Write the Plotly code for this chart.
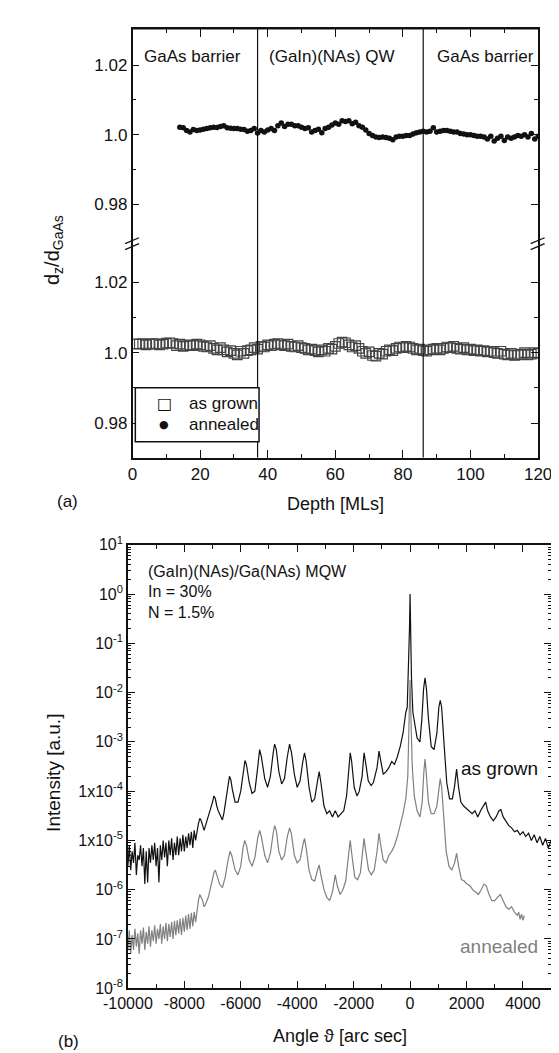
import plotly.graph_objects as go

# ---------------- Panel (a) data ----------------
depth_annealed = list(range(14, 121))
dz_annealed = [
    1.0022, 1.0020, 1.0012, 1.0008, 1.0015, 1.0012, 1.0014, 1.0016, 1.0018, 1.0020,
    1.0022, 1.0021, 1.0024, 1.0026, 1.0020, 1.0019, 1.0018, 1.0018, 1.0016, 1.0015,
    1.0010, 1.0012, 1.0018, 1.0005, 1.0012, 1.0008, 1.0014, 1.0018, 1.0012, 1.0026,
    1.0034, 1.0024, 1.0030, 1.0030, 1.0026, 1.0026, 1.0022, 1.0018, 1.0020, 1.0008,
    1.0012, 1.0016, 1.0006, 1.0018, 1.0022, 1.0028, 1.0034, 1.0030, 1.0040, 1.0038,
    1.0040, 1.0032, 1.0036, 1.0026, 1.0022, 1.0014, 1.0004, 0.9998, 0.9994, 0.9992,
    0.9994, 0.9992, 0.9990, 0.9986, 0.9994, 0.9996, 0.9996, 0.9998, 0.9998, 1.0002,
    1.0006, 1.0008, 1.0010, 1.0008, 1.0010, 1.0020, 1.0008, 1.0010, 1.0012, 1.0012,
    1.0010, 1.0008, 1.0008, 1.0004, 1.0002, 1.0000, 1.0000, 0.9998, 0.9996, 0.9996,
    0.9994, 0.9988, 0.9996, 0.9982, 0.9990, 0.9996, 0.9984, 0.9994, 0.9990, 0.9994,
    0.9998, 0.9996, 1.0000, 0.9994, 1.0004, 0.9988, 0.9996,
]
depth_grown = list(range(1, 121))
dz_grown = [
    1.0025, 1.0024, 1.0026, 1.0022, 1.0024, 1.0026, 1.0025, 1.0022, 1.0024, 1.0027,
    1.0028, 1.0026, 1.0020, 1.0024, 1.0018, 1.0020, 1.0022, 1.0020, 1.0024, 1.0022,
    1.0018, 1.0016, 1.0020, 1.0012, 1.0008, 1.0014, 1.0008, 1.0002, 1.0006, 0.9998,
    0.9994, 1.0004, 0.9998, 1.0006, 1.0008, 1.0014, 1.0010, 1.0018, 1.0016, 1.0022,
    1.0020, 1.0024, 1.0026, 1.0022, 1.0020, 1.0024, 1.0018, 1.0016, 1.0020, 1.0014,
    1.0012, 1.0008, 1.0010, 1.0006, 1.0002, 1.0008, 1.0004, 1.0012, 1.0010, 1.0018,
    1.0026, 1.0030, 1.0028, 1.0022, 1.0016, 1.0020, 1.0012, 1.0004, 0.9998, 1.0002,
    0.9992, 0.9990, 0.9998, 0.9996, 1.0004, 1.0008, 1.0006, 1.0012, 1.0016, 1.0014,
    1.0018, 1.0016, 1.0012, 1.0008, 1.0010, 1.0006, 1.0004, 1.0008, 1.0010, 1.0012,
    1.0008, 1.0012, 1.0016, 1.0014, 1.0018, 1.0012, 1.0010, 1.0014, 1.0008, 1.0010,
    1.0006, 1.0008, 1.0004, 1.0006, 1.0002, 1.0004, 1.0000, 0.9998, 1.0004, 0.9996,
    0.9994, 0.9998, 0.9992, 0.9994, 0.9996, 1.0000, 0.9994, 0.9996, 1.0000, 0.9998,
]
interface_depths = [37, 86]
region_labels = ["GaAs barrier", "(GaIn)(NAs) QW", "GaAs barrier"]
legend_labels = ["as grown", "annealed"]
a_xticks = [0, 20, 40, 60, 80, 100, 120]
a_yticks = [0.98, 1.0, 1.02]
a_yticktext = ["0.98", "1.0", "1.02"]

# ---------------- Panel (b) data ----------------
angle_grown = [
    -10000, -9950, -9900, -9850, -9800, -9750, -9700, -9650, -9600, -9550,
    -9500, -9450, -9400, -9350, -9300, -9250, -9200, -9150, -9100, -9050,
    -9000, -8950, -8900, -8850, -8800, -8750, -8700, -8650, -8600, -8550,
    -8500, -8450, -8400, -8350, -8300, -8250, -8200, -8150, -8100, -8050,
    -8000, -7950, -7900, -7850, -7800, -7750, -7700, -7650, -7600, -7550,
    -7500, -7450, -7400, -7350, -7300, -7250, -7200, -7100, -7000, -6950,
    -6900, -6850, -6800, -6700, -6650, -6600, -6500, -6450, -6400, -6350,
    -6300, -6200, -6100, -6000, -5900, -5850, -5800, -5700, -5600, -5500,
    -5400, -5330, -5270, -5150, -5050, -4950, -4850, -4800, -4740, -4650,
    -4550, -4450, -4350, -4270, -4200, -4100, -4000, -3900, -3800, -3740,
    -3680, -3580, -3480, -3380, -3280, -3220, -3160, -3050, -2950, -2850,
    -2750, -2650, -2550, -2450, -2350, -2250, -2170, -2120, -2070, -1980,
    -1880, -1800, -1700, -1630, -1580, -1480, -1380, -1300, -1170, -1100,
    -1050, -950, -850, -750, -650, -550, -450, -350, -250, -150,
    -100, -50, -20, 0, 20, 50, 100, 150, 250, 350,
    420, 480, 530, 580, 650, 750, 850, 950, 1020, 1070,
    1120, 1200, 1300, 1400, 1500, 1580, 1650, 1720, 1800, 1900,
    2000, 2100, 2200, 2300, 2400, 2500, 2600, 2680, 2750, 2850,
    2950, 3050, 3150, 3220, 3300, 3400, 3500, 3600, 3700, 3800,
    3900, 4000, 4100, 4200, 4300, 4400, 4500, 4600, 4700, 4800,
    4900, 5000,
]
intensity_grown = [
    3e-6, 8e-6, 2.5e-6, 6e-6, 3.5e-6, 9e-6, 2e-6, 5e-6, 4e-6, 8e-6,
    3e-6, 7e-6, 1.3e-6, 6e-6, 1.4e-6, 7e-6, 3.5e-6, 8e-6, 4e-6, 9e-6,
    3e-6, 7e-6, 1.4e-6, 8e-6, 4e-6, 1e-5, 4.5e-6, 9e-6, 3e-6, 1e-5,
    5e-6, 1.1e-5, 4e-6, 9e-6, 5e-6, 1.2e-5, 5e-6, 1.1e-5, 6e-6, 1.3e-5,
    6e-6, 1.2e-5, 7e-6, 1.4e-5, 8e-6, 1.5e-5, 7e-6, 1.6e-5, 1e-5, 1.6e-5,
    2.2e-5, 2.8e-5, 2.5e-5, 2.0e-5, 1.6e-5, 2.0e-5, 2.5e-5, 3.5e-5, 6e-5, 8e-5,
    7e-5, 5e-5, 4e-5, 3e-5, 2.6e-5, 3.5e-5, 8e-5, 1.5e-4, 2e-4, 1.7e-4,
    1.1e-4, 6e-5, 6e-5, 1e-4, 2.8e-4, 4.2e-4, 3.5e-4, 1.5e-4, 9e-5, 1e-4,
    3e-4, 7e-4, 5e-4, 1.8e-4, 1.2e-4, 2e-4, 6e-4, 9e-4, 7e-4, 2.5e-4,
    1.4e-4, 1.8e-4, 5e-4, 9e-4, 6e-4, 2.2e-4, 1.2e-4, 1.6e-4, 4e-4, 6e-4,
    4e-4, 1.2e-4, 6e-5, 7e-5, 1.6e-4, 2.5e-4, 1.5e-4, 5e-5, 3.5e-5, 4e-5,
    3e-5, 4e-5, 3e-5, 3.5e-5, 4e-5, 8e-5, 3e-4, 6e-4, 4e-4, 1.2e-4,
    8e-5, 1e-4, 2e-4, 6e-4, 4e-4, 1.6e-4, 1.3e-4, 1.5e-4, 3e-4, 6.5e-4,
    4.5e-4, 2.2e-4, 2.5e-4, 3e-4, 4e-4, 3.5e-4, 5e-4, 8e-4, 1.5e-3, 4e-3,
    5e-3, 3e-2, 2e-1, 1.0, 2e-1, 2e-2, 4e-3, 2.5e-3, 1.2e-3, 1e-3,
    3e-3, 1.2e-2, 2e-2, 1.2e-2, 3e-3, 8e-4, 7e-4, 1.5e-3, 5e-3, 7e-3,
    5e-3, 1e-3, 1.5e-4, 7e-5, 7e-5, 1.3e-4, 2.8e-4, 1.2e-4, 6e-5, 5e-5,
    4.5e-5, 4e-5, 3.5e-5, 4e-5, 3e-5, 4e-5, 5e-5, 6e-5, 4e-5, 3e-5,
    2.5e-5, 3e-5, 4e-5, 4.2e-5, 3e-5, 2.5e-5, 2e-5, 1.8e-5, 1.5e-5, 1.6e-5,
    1.3e-5, 1.5e-5, 1.2e-5, 1.4e-5, 1e-5, 1.3e-5, 9e-6, 1.2e-5, 8e-6, 1.1e-5,
    7e-6, 1e-5,
]
angle_annealed = [
    -10000, -9950, -9900, -9850, -9800, -9750, -9700, -9650, -9600, -9550,
    -9500, -9450, -9400, -9350, -9300, -9250, -9200, -9150, -9100, -9050,
    -9000, -8950, -8900, -8850, -8800, -8750, -8700, -8650, -8600, -8550,
    -8500, -8450, -8400, -8350, -8300, -8250, -8200, -8150, -8100, -8050,
    -8000, -7950, -7900, -7850, -7800, -7750, -7700, -7650, -7600, -7550,
    -7500, -7450, -7400, -7350, -7300, -7250, -7150, -7050, -6950, -6900,
    -6850, -6750, -6650, -6550, -6450, -6380, -6320, -6200, -6100, -6000,
    -5920, -5860, -5800, -5700, -5600, -5500, -5400, -5330, -5270, -5150,
    -5050, -4950, -4850, -4800, -4740, -4650, -4550, -4450, -4350, -4270,
    -4210, -4100, -4000, -3900, -3800, -3740, -3680, -3580, -3480, -3380,
    -3280, -3220, -3160, -3050, -2950, -2850, -2750, -2650, -2580, -2480,
    -2380, -2280, -2180, -2120, -2060, -1960, -1860, -1760, -1680, -1630,
    -1570, -1470, -1370, -1270, -1170, -1100, -1040, -950, -850, -750,
    -650, -550, -450, -350, -250, -150, -80, -40, 0, 40,
    80, 150, 250, 350, 430, 490, 530, 570, 650, 750,
    850, 950, 1020, 1070, 1120, 1200, 1280, 1380, 1480, 1580,
    1650, 1720, 1820, 1920, 2020, 2120, 2220, 2320, 2420, 2520,
    2620, 2700, 2800, 2900, 3000, 3100, 3200, 3300, 3400, 3500,
    3600, 3700, 3800, 3850, 3900, 3950, 4000, 4050,
]
intensity_annealed = [
    6e-8, 1.5e-7, 5e-8, 1.2e-7, 6e-8, 1.6e-7, 7e-8, 1.3e-7, 5e-8, 1.5e-7,
    8e-8, 1.7e-7, 6e-8, 1.4e-7, 8e-8, 1.8e-7, 7e-8, 1.5e-7, 9e-8, 1.9e-7,
    8e-8, 1.6e-7, 1e-7, 2e-7, 8e-8, 1.8e-7, 1e-7, 2.1e-7, 9e-8, 2e-7,
    1.1e-7, 2.2e-7, 1e-7, 2.3e-7, 1.2e-7, 2.4e-7, 1.3e-7, 2.6e-7, 1.2e-7, 2.7e-7,
    1.4e-7, 3e-7, 1.5e-7, 3.2e-7, 1.6e-7, 3.4e-7, 1.8e-7, 3.5e-7, 2.2e-7, 4e-7,
    6e-7, 8e-7, 7e-7, 6e-7, 4.5e-7, 5e-7, 7e-7, 1.3e-6, 2.2e-6, 2.5e-6,
    2e-6, 1.3e-6, 1.1e-6, 1.8e-6, 4e-6, 6e-6, 5e-6, 2.5e-6, 2e-6, 3e-6,
    7e-6, 1e-5, 8e-6, 4e-6, 3e-6, 4.5e-6, 1.1e-5, 1.6e-5, 1.2e-5, 5e-6,
    3.5e-6, 5.5e-6, 1.4e-5, 2e-5, 1.6e-5, 6e-6, 4e-6, 5e-6, 1.2e-5, 1.8e-5,
    1.4e-5, 5e-6, 3.5e-6, 4e-6, 8e-6, 1.1e-5, 7e-6, 2.5e-6, 1.6e-6, 1.5e-6,
    2.5e-6, 3.2e-6, 2e-6, 1e-6, 7e-7, 6e-7, 9e-7, 2e-6, 1.2e-6, 8e-7,
    1e-6, 1.5e-6, 5e-6, 1e-5, 5e-6, 1.8e-6, 1.6e-6, 2.2e-6, 6e-6, 1.1e-5,
    6e-6, 2.5e-6, 2e-6, 2.5e-6, 6e-6, 1.4e-5, 8e-6, 4e-6, 3.5e-6, 5e-6,
    6e-6, 8e-6, 1.2e-5, 2e-5, 3.5e-5, 7e-5, 2e-4, 2e-3, 1.8e-2, 2e-3,
    3e-4, 8e-5, 4e-5, 3e-5, 6e-5, 2.5e-4, 4.5e-4, 2.5e-4, 6e-5, 3.5e-5,
    3.5e-5, 5e-5, 1.2e-4, 1.8e-4, 1.2e-4, 2.5e-5, 6e-6, 3e-6, 2.5e-6, 3.5e-6,
    5.5e-6, 3e-6, 1.6e-6, 1.5e-6, 1.3e-6, 1.2e-6, 1e-6, 9e-7, 8e-7, 1e-6,
    1.3e-6, 1.2e-6, 8e-7, 6e-7, 6e-7, 7e-7, 8e-7, 6e-7, 4.5e-7, 4e-7,
    4.5e-7, 3.5e-7, 3e-7, 3.5e-7, 2.5e-7, 3.2e-7, 2.4e-7, 3e-7,
]
b_xticks = [-10000, -8000, -6000, -4000, -2000, 0, 2000, 4000]
b_xticktext = ["-10000", "-8000", "-6000", "-4000", "-2000", "0", "2000", "4000"]
b_yticks = [1e1, 1e0, 1e-1, 1e-2, 1e-3, 1e-4, 1e-5, 1e-6, 1e-7, 1e-8]
b_yticktext = ["10<sup>1</sup>", "10<sup>0</sup>", "10<sup>-1</sup>", "10<sup>-2</sup>",
               "10<sup>-3</sup>", "1x10<sup>-4</sup>", "1x10<sup>-5</sup>",
               "10<sup>-6</sup>", "10<sup>-7</sup>", "10<sup>-8</sup>"]
b_yminor = [m * 10.0 ** e for e in range(-8, 1) for m in range(2, 10)]

# ---------------- layout helpers (pixel -> paper) ----------------
W, H = 559, 1053
def px(x):
    return x / W
def py(y):
    return 1 - y / H

FONT = "Liberation Sans, Arial, sans-serif"
BLACK = "#111111"
GREY = "#808080"

fig = go.Figure()

fig.add_trace(go.Scatter(
    x=depth_grown, y=dz_grown, mode="markers", name=legend_labels[0], showlegend=False,
    xaxis="x", yaxis="y2",
    marker=dict(symbol="square-open", size=9.5, color="#444444", line=dict(width=1.2)),
))
fig.add_trace(go.Scatter(
    x=depth_annealed, y=dz_annealed, mode="markers", name=legend_labels[1], showlegend=False,
    xaxis="x2", yaxis="y",
    marker=dict(symbol="circle", size=5.5, color=BLACK),
))
fig.add_trace(go.Scatter(
    x=angle_grown, y=intensity_grown, mode="lines", showlegend=False,
    xaxis="x3", yaxis="y3", line=dict(color=BLACK, width=1.2),
))
fig.add_trace(go.Scatter(
    x=angle_annealed, y=intensity_annealed, mode="lines", showlegend=False,
    xaxis="x3", yaxis="y3", line=dict(color=GREY, width=1.2),
))

a_xdom = [px(107), px(543)]
a_top = [py(230), py(10)]
a_bot = [py(447), py(230)]
b_xdom = [px(102), px(557)]
b_ydom = [py(988), py(536)]

tickfont_a = dict(family=FONT, size=17, color=BLACK)
tickfont_b = dict(family=FONT, size=16, color=BLACK)

common_y_a = dict(
    showline=True, linecolor=BLACK, linewidth=1.5, mirror="ticks",
    ticks="inside", ticklen=7, tickwidth=1.3, tickcolor=BLACK,
    tickmode="array", tickvals=a_yticks, ticktext=a_yticktext,
    minor=dict(tickmode="array", tickvals=[0.99, 1.01], ticks="inside", ticklen=4,
               tickcolor=BLACK, tickwidth=1.2, showgrid=False),
    showgrid=False, zeroline=False, tickfont=tickfont_a,
)
common_x_a = dict(
    domain=a_xdom, range=[0, 120],
    showline=True, linecolor=BLACK, linewidth=1.5, mirror=False,
    ticks="inside", ticklen=8, tickwidth=1.3, tickcolor=BLACK,
    tickmode="array", tickvals=a_xticks,
    minor=dict(dtick=10, ticks="inside", ticklen=4, tickcolor=BLACK, tickwidth=1.2, showgrid=False),
    showgrid=False, zeroline=False, tickfont=tickfont_a,
)

fig.update_layout(
    width=W, height=H, margin=dict(l=0, r=0, t=0, b=0),
    paper_bgcolor="white", plot_bgcolor="white",
    font=dict(family=FONT, color=BLACK),
    showlegend=False,
    xaxis=dict(anchor="y2", side="bottom", **common_x_a),
    xaxis2=dict(anchor="y", side="top", showticklabels=False, **common_x_a),
    yaxis=dict(domain=a_top, anchor="x2", range=[0.9685, 1.0304], **common_y_a),
    yaxis2=dict(domain=a_bot, anchor="x", range=[0.9703, 1.0306], **common_y_a),
    xaxis3=dict(
        domain=b_xdom, anchor="y3", range=[-10000, 5000],
        showline=True, linecolor=BLACK, linewidth=1.5, mirror="ticks",
        ticks="inside", ticklen=7, tickwidth=1.3, tickcolor=BLACK,
        tickmode="array", tickvals=b_xticks, ticktext=b_xticktext,
        minor=dict(dtick=1000, ticks="inside", ticklen=4, tickcolor=BLACK, tickwidth=1.2, showgrid=False),
        showgrid=False, zeroline=False, tickfont=tickfont_b,
    ),
    yaxis3=dict(
        domain=b_ydom, anchor="x3", type="log", range=[-8, 1],
        showline=True, linecolor=BLACK, linewidth=1.5, mirror="ticks",
        ticks="inside", ticklen=7, tickwidth=1.3, tickcolor=BLACK,
        tickmode="array", tickvals=b_yticks, ticktext=b_yticktext,
        minor=dict(tickmode="array", tickvals=b_yminor, ticks="inside", ticklen=3,
                   tickcolor=BLACK, tickwidth=1, showgrid=False),
        showgrid=False, zeroline=False, tickfont=tickfont_b,
    ),
)

shapes = []
# top frame edge of panel (a)
shapes.append(dict(type="line", xref="paper", yref="paper",
                   x0=a_xdom[0], x1=a_xdom[1], y0=a_top[1], y1=a_top[1],
                   line=dict(color=BLACK, width=1.5)))
# interface lines in panel (a)
for d in interface_depths:
    shapes.append(dict(type="line", xref="x", yref="paper", x0=d, x1=d,
                       y0=a_bot[0], y1=a_top[1], line=dict(color=BLACK, width=1.2)))
# axis-break marks
for xb in (107, 543):
    for dy in (-3, 3):
        shapes.append(dict(type="line", xref="paper", yref="paper",
                           x0=px(xb - 8), y0=py(232 + dy), x1=px(xb + 7), y1=py(226 + dy),
                           line=dict(color=BLACK, width=1.3)))
# legend box
shapes.append(dict(type="rect", xref="paper", yref="paper",
                   x0=px(110), x1=px(243), y0=py(431), y1=py(376),
                   fillcolor="white", line=dict(color=BLACK, width=1.5), layer="above"))
fig.update_layout(shapes=shapes)

ann = []
def text(x, y, s, size, xanchor="left", color=BLACK, angle=0, family=FONT):
    ann.append(dict(x=px(x), y=py(y), xref="paper", yref="paper", text=s, showarrow=False,
                    xanchor=xanchor, yanchor="middle", textangle=angle,
                    font=dict(family=family, size=size, color=color)))

text(117, 38, region_labels[0], 17)
text(252, 38, region_labels[1], 17)
text(432, 38, region_labels[2], 17)
text(22, 235, "d<sub>z</sub>/d<sub>GaAs</sub>", 20, xanchor="center", angle=-90)
text(325, 494, "Depth [MLs]", 18, xanchor="center")
text(37, 492, "(a)", 17, xanchor="center")
# legend entries
text(141, 392, "\u25a1", 16, xanchor="center", family="DejaVu Sans")
text(141, 413, "\u25cf", 11, xanchor="center", family="DejaVu Sans")
text(166, 392, legend_labels[0], 17)
text(166, 413, legend_labels[1], 17)

text(121, 563, "(GaIn)(NAs)/Ga(NAs) MQW", 16)
text(121, 584, "In = 30%", 16)
text(121, 605, "N = 1.5%", 16)
text(545, 764, "as grown", 19, xanchor="right")
text(545, 945, "annealed", 19, xanchor="right", color=GREY)
text(22, 768, "Intensity [a.u.]", 19, xanchor="center", angle=-90)
text(330, 1037, "Angle ϑ [arc sec]", 18, xanchor="center")
text(38, 1042, "(b)", 17, xanchor="center")
fig.update_layout(annotations=ann)

fig.write_html("out.html")
